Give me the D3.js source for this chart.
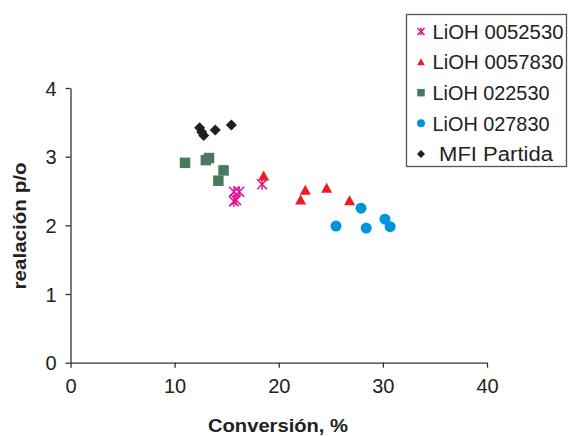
<!DOCTYPE html>
<html><head><meta charset="utf-8">
<script src="https://cdn.jsdelivr.net/npm/d3@7"></script>
<style>body{margin:0;background:#fff}svg{display:block}text{font-family:"Liberation Sans",Arial,sans-serif}</style>
</head><body>
<script>
const seriesNames = ["LiOH 0052530","LiOH 0057830","LiOH 022530","LiOH 027830","MFI Partida"];
const s0052530 = [[15.7,2.49],[16.2,2.49],[15.7,2.35],[15.9,2.37],[18.4,2.60]];
const s0057830 = [[18.55,2.72],[22.55,2.51],[22.1,2.37],[24.6,2.54],[26.8,2.36]];
const s022530 = [[11.0,2.91],[13.0,2.95],[13.3,2.98],[14.7,2.80],[14.2,2.65]];
const s027830 = [[27.9,2.25],[25.5,1.99],[28.4,1.96],[30.2,2.09],[30.7,1.98]];
const sMFI = [[12.4,3.42],[12.6,3.36],[12.8,3.31],[13.9,3.39],[15.45,3.46]];
const xTicks = [0,10,20,30,40];
const yTicks = [0,1,2,3,4];
const series = [s0052530,s0057830,s022530,s027830,sMFI];
const colors = ["#ec008c","#ed1c24","#4a7a5c","#0095da","#231f20"];
const shapes = ["asterisk","triangle","square","circle","diamond"];

const W=568,H=437;
const svg=d3.select("body").append("svg").attr("width",W).attr("height",H);
const x=d3.scaleLinear().domain([0,40]).range([70.5,487]);
const y=d3.scaleLinear().domain([0,4]).range([362.7,88]);

const xa=svg.append("g").attr("transform","translate(0,362.7)")
  .call(d3.axisBottom(x).tickValues(xTicks).tickFormat(d3.format("d")).tickSize(5).tickSizeOuter(0).tickPadding(8));
const ya=svg.append("g").attr("transform","translate(70.5,0)")
  .call(d3.axisLeft(y).tickValues(yTicks).tickFormat(d3.format("d")).tickSize(5).tickSizeOuter(0).tickPadding(9));
[xa,ya].forEach(a=>{
  a.selectAll("path,line").attr("stroke","#333").attr("stroke-width",1.3);
  a.selectAll("text").attr("fill","#222").style("font-size","20px").style("font-family","Liberation Sans, Arial, sans-serif");
});
xa.selectAll("text").attr("dy","0.85em");
ya.selectAll("text").attr("dy","0.36em");

svg.append("text").attr("x",278).attr("y",432).attr("text-anchor","middle")
  .style("font-size","18px").style("font-weight","bold").attr("fill","#222")
  .attr("textLength",140).attr("lengthAdjust","spacingAndGlyphs").text("Conversión, %");
svg.append("text").attr("transform","translate(26,226) rotate(-90)").attr("text-anchor","middle")
  .style("font-size","18px").style("font-weight","bold").attr("fill","#222")
  .attr("textLength",127).attr("lengthAdjust","spacingAndGlyphs").text("realación p/o");

function drawMarker(g,shape,color,size){
  const s=size;
  if(shape==="asterisk"){
    const r=s/2;
    const p=[[-r,-r,r,r],[-r,r,r,-r],[0,-r*1.1,0,r*1.1]];
    p.forEach(l=>g.append("line").attr("x1",l[0]).attr("y1",l[1]).attr("x2",l[2]).attr("y2",l[3])
      .attr("stroke",color).attr("stroke-width",1.4));
  } else if(shape==="triangle"){
    g.append("path").attr("d",`M0,${-s*0.55}L${s*0.55},${s*0.45}L${-s*0.55},${s*0.45}Z`).attr("fill",color);
  } else if(shape==="square"){
    g.append("rect").attr("x",-s/2).attr("y",-s/2).attr("width",s).attr("height",s).attr("fill",color);
  } else if(shape==="circle"){
    g.append("circle").attr("r",s/2).attr("fill",color);
  } else {
    const r=s/2;
    g.append("path").attr("d",`M0,${-r}L${r},0L0,${r}L${-r},0Z`).attr("fill",color);
  }
}
const sizes=[10,10,10.5,11,11];
series.forEach((d,i)=>{
  svg.append("g").selectAll("g").data(d).join("g")
    .attr("transform",p=>`translate(${x(p[0])},${y(p[1])})`)
    .each(function(){drawMarker(d3.select(this),shapes[i],colors[i],sizes[i]);});
});

// legend
const lg=svg.append("g");
lg.append("rect").attr("x",406.5).attr("y",14.5).attr("width",160).attr("height",152)
  .attr("fill","#fff").attr("stroke","#555").attr("stroke-width",1.3);
const lsizes=[7,7,7.5,8,8];
seriesNames.forEach((n,i)=>{
  const cy=31.5+i*30.6;
  const g=lg.append("g").attr("transform",`translate(421,${cy})`);
  drawMarker(g,shapes[i],colors[i],lsizes[i]);
  lg.append("text").attr("x",i===4?439:432.5).attr("y",cy).attr("dy","0.36em")
    .style("font-size","20px").attr("fill","#222")
    .attr("textLength",i===4?114:(i<2?131:117)).attr("lengthAdjust","spacingAndGlyphs").text(n);
});
</script>
</body></html>
